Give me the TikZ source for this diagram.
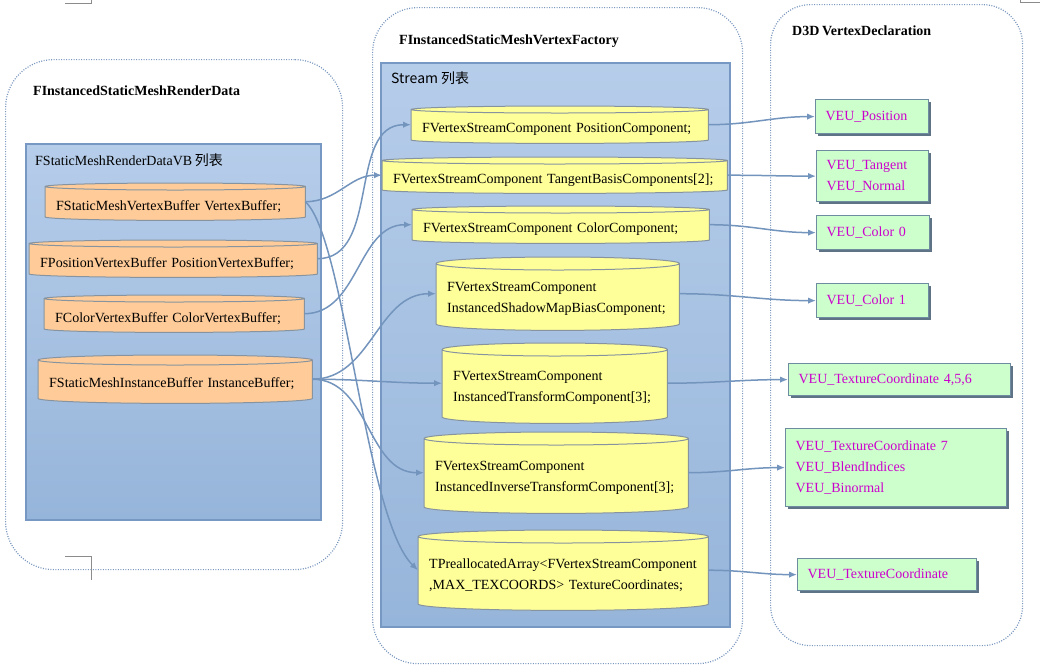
\documentclass[tikz,border=0pt]{standalone}
\usepackage{fontspec}
\setmainfont{Liberation Serif}[WordSpace={0.75}]
\newfontfamily\cjk{Noto Sans CJK SC}
\usetikzlibrary{calc,arrows.meta,shadows}

\definecolor{wireblue}{RGB}{115,148,188}
\definecolor{ringblue}{RGB}{120,150,190}
\definecolor{paneltop}{RGB}{182,205,234}
\definecolor{panelbot}{RGB}{150,181,218}
\definecolor{paneledge}{RGB}{120,152,196}
\definecolor{drumorange}{RGB}{255,204,153}
\definecolor{drumyellow}{RGB}{255,255,153}
\definecolor{drumedge}{RGB}{135,148,160}
\definecolor{veufill}{RGB}{204,255,204}
\definecolor{veuedge}{RGB}{110,140,160}
\definecolor{veushade}{RGB}{95,115,135}
\definecolor{veutext}{RGB}{204,0,204}
\definecolor{cropgray}{RGB}{140,140,140}

\pgfdeclarelayer{back}
\pgfdeclarelayer{drums}
\pgfsetlayers{back,drums,main}

\newcommand\drawdrum[3]{%
  \begin{pgfonlayer}{drums}
  \filldraw[fill=#2, draw=drumedge, line width=1pt] let \p1=(#1.north west), \p2=(#1.south east) in
    (\x1,\y1-#3) -- (\x1,\y2+#3)
    arc[start angle=180, end angle=360, x radius={(\x2-\x1)/2}, y radius=#3]
    -- (\x2,\y1-#3)
    arc[start angle=0, end angle=180, x radius={(\x2-\x1)/2}, y radius=#3] -- cycle
    (\x1,\y1-#3) arc[start angle=180, end angle=360, x radius={(\x2-\x1)/2}, y radius=#3];
  \end{pgfonlayer}}

\begin{document}
\begin{tikzpicture}[x=1pt, y=-1pt, font=\fontsize{14}{21}\selectfont,
  ring/.style={anchor=north west, draw=ringblue, line width=1.2pt, dash pattern=on 1pt off 1.5pt, rounded corners=#1},
  panel/.style={anchor=north west, draw=paneledge, line width=1.5pt, top color=paneltop, bottom color=panelbot},
  title/.style={anchor=west, inner sep=0pt, font=\fontsize{14}{21}\selectfont\bfseries},
  caption/.style={anchor=west, inner sep=0pt},
  drum/.style 2 args={anchor=north west, inner xsep=11pt, inner ysep=0pt, align=left, text height=19pt,
    minimum width=#1, text width=#1-22pt, minimum height=#2},
  veu/.style 2 args={anchor=north west, draw=veuedge, line width=1.2pt, fill=veufill, text=veutext,
    inner xsep=10pt, align=left, minimum width=#1, text width=#1-20pt, minimum height=#2,
    drop shadow={shadow xshift=2pt, shadow yshift=-2pt, fill=veushade, opacity=1}},
  wire/.style={draw=wireblue, line width=1.5pt, -{Latex[length=8pt, width=6.5pt]}},
  crop/.style={draw=cropgray, line width=0.8pt}]

\useasboundingbox (0,0) rectangle (1040,665);

\begin{pgfonlayer}{back}
\node[ring=48pt, minimum width=337pt, minimum height=510pt] (renderdata) at (5,59) {};
\node[ring=45pt, minimum width=370pt, minimum height=656pt] (factory) at (372,7) {};
\node[ring=40pt, minimum width=252pt, minimum height=641pt] (decl) at (770,4) {};

\node[panel, minimum width=295pt, minimum height=376pt] (vbpanel) at (25,143) {};
\node[panel, minimum width=349pt, minimum height=564pt] (streampanel) at (380,62) {};
\end{pgfonlayer}

\node[title] (rdtitle) at (33,91) {FInstancedStaticMeshRenderData};
\node[title] (vftitle) at (399,41) {FInstancedStaticMeshVertexFactory};
\node[title] (decltitle) at (792,31) {D3D VertexDeclaration};

\node[caption] (vblabel) at (35,160) {FStaticMeshRenderDataVB {\cjk 列表}};
\node[caption] (streamlabel) at (391,78) {{\cjk Stream 列表}};

\node[drum={260pt}{37pt}] (vb) at (45,183) {FStaticMeshVertexBuffer VertexBuffer;};
\node[drum={288pt}{37pt}] (pvb) at (29,240) {FPositionVertexBuffer PositionVertexBuffer;};
\node[drum={260pt}{37pt}] (cvb) at (44,295) {FColorVertexBuffer ColorVertexBuffer;};
\node[drum={274pt}{48pt}] (ib) at (38,355) {FStaticMeshInstanceBuffer InstanceBuffer;};

\node[drum={297pt}{37pt}] (pc) at (411,106) {FVertexStreamComponent PositionComponent;};
\node[drum={345pt}{36pt}] (tbc) at (382,157) {FVertexStreamComponent TangentBasisComponents[2];};
\node[drum={297pt}{37pt}] (cc) at (412,206) {FVertexStreamComponent ColorComponent;};
\node[drum={243pt}{73pt}] (smb) at (436,257) {FVertexStreamComponent\\InstancedShadowMapBiasComponent;};
\node[drum={225pt}{80pt}] (itc) at (442,343) {FVertexStreamComponent\\InstancedTransformComponent[3];};
\node[drum={264pt}{81pt}] (iitc) at (424,432) {FVertexStreamComponent\\InstancedInverseTransformComponent[3];};
\node[drum={290pt}{80pt}] (tpa) at (418,530) {TPreallocatedArray<FVertexStreamComponent\\,MAX\_TEXCOORDS> TextureCoordinates;};

\drawdrum{vb}{drumorange}{3.5pt}
\drawdrum{pvb}{drumorange}{3.5pt}
\drawdrum{cvb}{drumorange}{3.5pt}
\drawdrum{ib}{drumorange}{5pt}

\drawdrum{pc}{drumyellow}{3.5pt}
\drawdrum{tbc}{drumyellow}{3.5pt}
\drawdrum{cc}{drumyellow}{3.5pt}
\drawdrum{smb}{drumyellow}{6.5pt}
\drawdrum{itc}{drumyellow}{6.5pt}
\drawdrum{iitc}{drumyellow}{6.5pt}
\drawdrum{tpa}{drumyellow}{6.5pt}

\node[veu={113pt}{34pt}] (pos) at (815,99) {VEU\_Position};
\node[veu={112pt}{51pt}] (tan) at (816,150) {VEU\_Tangent\\VEU\_Normal};
\node[veu={113pt}{34pt}] (col0) at (816,215) {VEU\_Color 0};
\node[veu={112pt}{34pt}] (col1) at (816,283) {VEU\_Color 1};
\node[veu={222pt}{32pt}] (tc456) at (788,363) {VEU\_TextureCoordinate 4,5,6};
\node[veu={221pt}{78pt}] (tc7) at (785,428) {VEU\_TextureCoordinate 7\\VEU\_BlendIndices\\VEU\_Binormal};
\node[veu={179pt}{32pt}] (tcall) at (797,558) {VEU\_TextureCoordinate};

\draw[wire] (vb.east) to[out=0, in=180] (tbc.west);
\draw[wire] (vb.east) .. controls +(40,37) and +(-53,-51) .. (tpa.west);
\draw[wire] (pvb.east) to[out=0, in=180] (pc.west);
\draw[wire] (cvb.east) to[out=0, in=180] (cc.west);
\draw[wire] (ib.east) to[out=0, in=180] (smb.west);
\draw[wire] (ib.east) to[out=0, in=180] (itc.west);
\draw[wire] (ib.east) to[out=0, in=180] (iitc.west);

\draw[wire] (pc.east) to[out=0, in=180] (pos.west);
\draw[wire] (tbc.east) to[out=0, in=180] (tan.west);
\draw[wire] (cc.east) to[out=0, in=180] (col0.west);
\draw[wire] (smb.east) to[out=0, in=180] (col1.west);
\draw[wire] (itc.east) to[out=0, in=180] (tc456.west);
\draw[wire] (iitc.east) to[out=0, in=180] (tc7.west);
\draw[wire] (tpa.east) to[out=0, in=180] (tcall.west);

\draw[crop] (65,3) -- (91,3) -- (91,0);
\draw[crop] (65,556) -- (91,556) -- (91,580);
\draw[crop] (1020,0) -- (1020,2) -- (1040,2);

\end{tikzpicture}
\end{document}
